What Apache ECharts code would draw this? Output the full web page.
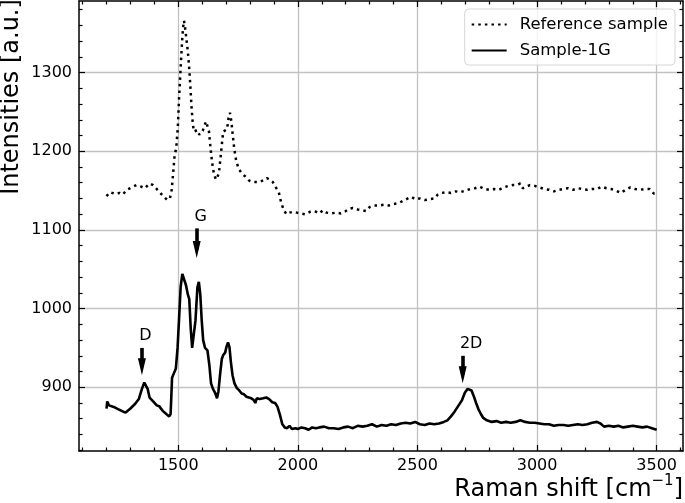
<!DOCTYPE html>
<html>
<head>
<meta charset="utf-8">
<script src="https://cdn.jsdelivr.net/npm/echarts@6/dist/echarts.min.js"></script>
<style>
  html, body { margin: 0; padding: 0; background: #fff; }
  #main { width: 685px; height: 503px; }
</style>
</head>
<body>
<div id="main"></div>
<script>
// Raman spectra
const refShift = [1200,1215,1235,1255,1268,1285,1305,1325,1345,1360,1380,1395,1410,1425,1440,1455,1465,1472,1478,1484,1492,1498,1503,1508,1512,1516,1520,1524,1528,1532,1537,1542,1547,1551,1555,1560,1565,1572,1580,1588,1595,1602,1610,1616,1622,1628,1633,1638,1644,1650,1658,1664,1670,1676,1682,1688,1696,1704,1710,1716,1722,1728,1734,1742,1752,1765,1780,1795,1810,1825,1840,1855,1870,1882,1895,1908,1920,1930,1940,1952,1965,1980,1995,2010,2030,2050,2070,2090,2105,2120,2140,2160,2180,2200,2215,2230,2250,2270,2285,2300,2320,2340,2360,2380,2400,2420,2440,2460,2475,2490,2510,2530,2550,2570,2585,2600,2620,2640,2660,2680,2700,2720,2740,2760,2780,2800,2820,2840,2860,2880,2900,2915,2930,2940,2955,2970,2990,3010,3030,3050,3070,3090,3110,3130,3150,3170,3190,3210,3230,3250,3270,3290,3310,3330,3350,3370,3390,3410,3430,3450,3470,3480,3490,3500];
const refIntensity = [1143,1148,1146,1147,1145,1151,1154,1157,1155,1153,1159,1157,1152,1147,1142,1138,1140,1150,1170,1192,1206,1230,1265,1295,1318,1340,1357,1366,1358,1348,1335,1320,1300,1280,1258,1238,1225,1224,1227,1221,1220,1226,1233,1238,1232,1226,1210,1195,1180,1170,1164,1163,1172,1190,1208,1225,1227,1228,1242,1249,1238,1220,1203,1188,1178,1172,1168,1163,1161,1161,1161,1163,1166,1164,1161,1154,1148,1135,1126,1120,1122,1123,1122,1121,1120,1123,1124,1121,1125,1122,1121,1122,1121,1124,1127,1128,1126,1125,1124,1129,1131,1131,1132,1131,1133,1134,1137,1140,1142,1139,1140,1138,1139,1140,1145,1147,1148,1147,1149,1148,1150,1152,1153,1155,1152,1151,1152,1151,1154,1156,1157,1157,1159,1153,1155,1157,1156,1154,1152,1151,1149,1151,1152,1153,1151,1153,1152,1151,1152,1152,1155,1153,1152,1150,1147,1151,1154,1152,1151,1152,1152,1148,1146,1146];

const sampleShift = [1200,1203,1210,1230,1250,1270,1280,1300,1320,1335,1348,1358,1365,1372,1380,1395,1410,1420,1435,1450,1462,1468,1474,1482,1490,1497,1503,1510,1517,1524,1532,1540,1546,1552,1558,1565,1572,1580,1586,1592,1598,1604,1612,1622,1630,1637,1645,1654,1662,1668,1674,1682,1688,1696,1702,1708,1714,1720,1727,1735,1745,1755,1765,1775,1785,1795,1805,1815,1822,1828,1840,1855,1868,1880,1893,1905,1915,1925,1935,1945,1955,1965,1975,1990,2000,2015,2030,2045,2060,2075,2090,2110,2130,2150,2170,2190,2210,2230,2250,2270,2290,2310,2330,2350,2370,2390,2410,2430,2450,2470,2490,2510,2530,2550,2570,2590,2610,2625,2640,2655,2670,2685,2698,2710,2718,2726,2735,2745,2755,2765,2775,2790,2810,2830,2850,2870,2890,2910,2930,2950,2970,2990,3010,3030,3050,3070,3090,3110,3130,3150,3170,3190,3210,3230,3250,3265,3280,3300,3320,3340,3360,3380,3400,3420,3440,3460,3480,3500];
const sampleIntensity = [873,882,877,875,872,869,868,873,879,885,898,906,905,898,887,882,877,876,870,866,863,866,912,918,924,950,985,1028,1044,1042,1030,1018,1012,975,950,952,985,1027,1034,1018,985,960,950,947,928,905,898,893,886,895,914,936,941,944,952,957,951,932,915,905,899,896,892,891,888,887,886,884,880,886,885,886,887,885,881,880,875,865,853,849,848,851,847,848,847,849,848,846,849,848,849,850,848,848,847,849,850,848,851,850,851,853,850,852,851,853,852,854,855,854,856,853,852,854,853,854,856,858,863,869,876,883,893,898,899,896,889,880,872,866,861,858,856,857,855,856,855,856,858,856,855,855,854,853,853,851,852,852,851,852,853,852,853,855,856,854,850,851,850,851,849,850,851,850,849,850,848,846];

// peak markers: label, shift, arrow top, arrow end
const peakLabels = ['D', 'G', '2D'];
const peakShift = [1348, 1577, 2689];
const peakTop = [950, 1102, 940];
const peakEnd = [926, 1075, 916];

const xMajor = [1500, 2000, 2500, 3000, 3500];
const yMajor = [900, 1000, 1100, 1200, 1300];
const xMinor = [];
for (let v = 1100; v <= 3600; v += 100) if (v % 500 !== 0) xMinor.push(v);
const yMinor = [];
for (let v = 820; v <= 1380; v += 20) if (v % 100 !== 0) yMinor.push(v);

const FONT = 'DejaVu Sans';
const labelPad = { D: 7, G: 8, '2D': 17 };
const chart = echarts.init(document.getElementById('main'));

function mkAxis(dim, pos, ticks, len, main) {
  const isX = dim === 'x';
  const labelled = main && (pos === 'bottom' || pos === 'left');
  return {
    type: 'value',
    position: pos,
    min: isX ? 1085 : 819,
    max: isX ? 3610 : 1391,
    axisLine: { show: main, onZero: false, lineStyle: { color: '#000', width: 1.5 } },
    axisTick: { show: true, inside: true, length: len, customValues: ticks,
      lineStyle: { color: '#000', width: 1.2 } },
    axisLabel: {
      show: labelled,
      customValues: ticks,
      color: '#000', fontSize: 16, fontFamily: FONT, margin: 7,
      formatter: v => String(v)
    },
    splitLine: { show: labelled, lineStyle: { color: '#c2c2c2', width: 1.3 } }
  };
}

chart.setOption({
  animation: false,
  backgroundColor: '#fff',
  textStyle: { fontFamily: FONT },
  grid: { left: 79, right: 2, top: 1, bottom: 52 },
  xAxis: [
    mkAxis('x', 'bottom', xMajor, 6, true),
    mkAxis('x', 'bottom', xMinor, 3.5, false),
    mkAxis('x', 'top', xMajor, 6, true),
    mkAxis('x', 'top', xMinor, 3.5, false)
  ],
  yAxis: [
    mkAxis('y', 'left', yMajor, 6, true),
    mkAxis('y', 'left', yMinor, 3.5, false),
    mkAxis('y', 'right', yMajor, 6, true),
    mkAxis('y', 'right', yMinor, 3.5, false)
  ],
  legend: {
    data: ['Reference sample', 'Sample-1G'],
    orient: 'vertical',
    right: 10,
    top: 9,
    itemWidth: 35,
    itemHeight: 14,
    itemGap: 9,
    padding: [7, 7, 6, 6],
    backgroundColor: 'rgba(255,255,255,0.8)',
    borderColor: '#d6d6d6',
    borderWidth: 1,
    borderRadius: 4,
    itemStyle: { opacity: 0 },
    textStyle: { color: '#000', fontSize: 16.5, fontFamily: FONT, padding: [0, 0, 0, 8] }
  },
  graphic: [
    {
      type: 'text', x: 12, y: 97, rotation: Math.PI / 2,
      style: { text: 'Intensities [a.u.]', font: '24px "DejaVu Sans"', fill: '#000',
        textAlign: 'center', textVerticalAlign: 'middle' }
    },
    {
      type: 'text', x: 683, y: 488,
      style: {
        text: '{a|Raman shift [cm}{s|−1}{a|]}',
        textAlign: 'right', textVerticalAlign: 'middle', fill: '#000',
        rich: {
          a: { fontSize: 24, lineHeight: 28, fontFamily: FONT, color: '#000', verticalAlign: 'bottom' },
          s: { fontSize: 15, lineHeight: 15, fontFamily: FONT, color: '#000', verticalAlign: 'top' }
        }
      }
    }
  ],
  series: [
    {
      name: 'Reference sample',
      type: 'line',
      symbol: 'none',
      data: refShift.map((x, i) => [x, refIntensity[i]]),
      lineStyle: { color: '#000', width: 2.5, type: [2.5, 4.1], cap: 'butt' },
      itemStyle: { color: '#000' }
    },
    {
      name: 'Sample-1G',
      type: 'line',
      symbol: 'none',
      data: sampleShift.map((x, i) => [x, sampleIntensity[i]]),
      lineStyle: { color: '#000', width: 2.6 },
      itemStyle: { color: '#000' },
      markLine: {
        silent: true,
        symbol: ['none', 'triangle'],
        symbolSize: [8, 17],
        lineStyle: { color: '#000', width: 3.6, type: 'solid' },
        label: {
          show: true, position: 'start', distance: 4,
          color: '#000', fontSize: 16, fontFamily: FONT,
          formatter: p => p.name
        },
        data: peakLabels.map((name, i) => [
          { name: name, coord: [peakShift[i], peakTop[i]],
            label: { padding: [0, 0, 0, labelPad[name]] } },
          { coord: [peakShift[i], peakEnd[i]] }
        ])
      }
    }
  ]
});
</script>
</body>
</html>
